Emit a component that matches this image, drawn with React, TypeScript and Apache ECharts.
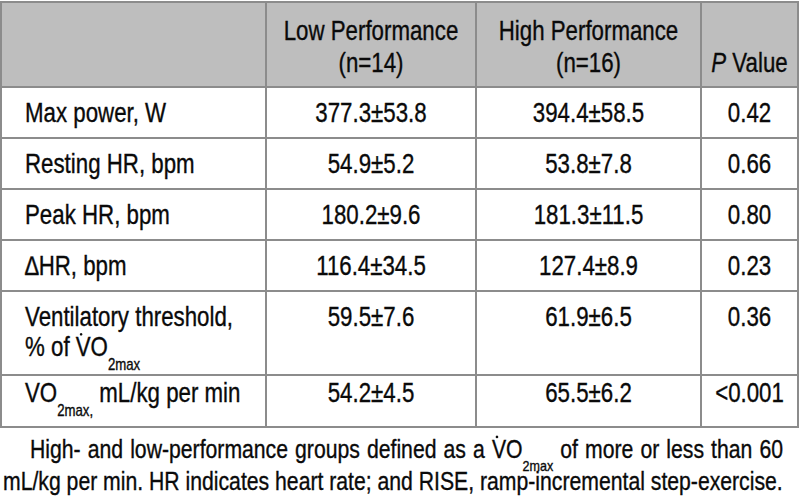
import React, { useEffect, useRef } from "react";
import * as echarts from "echarts";

type Seg = { t: string; sub?: boolean; dot?: boolean; italic?: boolean };

// ---- content ----
const headerLow = ["Low Performance", "(n=14)"];
const headerHigh = ["High Performance", "(n=16)"];
const headerP: Seg[] = [{ t: "P", italic: true }, { t: " Value" }];

const rowLabels: Seg[][][] = [
  [[{ t: "Max power, W" }]],
  [[{ t: "Resting HR, bpm" }]],
  [[{ t: "Peak HR, bpm" }]],
  [[{ t: "\u2206HR, bpm" }]],
  [
    [{ t: "Ventilatory threshold," }],
    [{ t: "% of " }, { t: "V", dot: true }, { t: "O" }, { t: "2max", sub: true }],
  ],
  [[{ t: "VO" }, { t: "2max,", sub: true }, { t: " mL/kg per min" }]],
];
const lowValues = ["377.3±53.8", "54.9±5.2", "180.2±9.6", "116.4±34.5", "59.5±7.6", "54.2±4.5"];
const highValues = ["394.4±58.5", "53.8±7.8", "181.3±11.5", "127.4±8.9", "61.9±6.5", "65.5±6.2"];
const pValues = ["0.42", "0.66", "0.80", "0.23", "0.36", "<0.001"];

const footnoteLine1: Seg[][] = [
  [{ t: "High-" }], [{ t: "and" }], [{ t: "low-performance" }], [{ t: "groups" }],
  [{ t: "defined" }], [{ t: "as" }], [{ t: "a" }],
  [{ t: "V", dot: true }, { t: "O" }, { t: "2max", sub: true }],
  [{ t: "of" }], [{ t: "more" }], [{ t: "or" }], [{ t: "less" }], [{ t: "than" }], [{ t: "60" }],
];
const footnoteLine2 = "mL/kg per min. HR indicates heart rate; and RISE, ramp-incremental step-exercise.";

// ---- layout ----
const COL_X = [1, 266, 476, 701, 798];
const ROW_Y = [2, 87, 138, 189, 240, 291, 375, 427];
const ROW_TEXT_Y = [[113], [164], [215], [266], [317, 347], [393]];
const HEADER_Y = [31, 63];
const LABEL_X = 25;
const FOOT_Y = [449, 481];
const FOOT1_X = [30, 783];
const FOOT2_X = 3;
const FONT_FAMILY = "'Liberation Sans', Arial, sans-serif";
const FS = 27;
const SUB_FS = 16;
const SX = 0.825;
const TEXT = "#0a0a0a";
const GRID = "#8c8c8c";
const HEAD_BG = "#bebebe";

const ctx = document.createElement("canvas").getContext("2d")!;
function fontStr(size: number, italic?: boolean) {
  return `${italic ? "italic " : ""}${size}px ${FONT_FAMILY}`;
}
function mw(text: string, size: number, italic?: boolean) {
  ctx.font = fontStr(size, italic);
  return ctx.measureText(text).width * SX;
}
function segsWidth(segs: Seg[], size: number, subSize: number) {
  return segs.reduce((s, g) => s + mw(g.t, g.sub ? subSize : size, g.italic), 0);
}
function textEl(text: string, x: number, y: number, size: number, align: string, italic?: boolean) {
  return {
    type: "text",
    x,
    y,
    scaleX: SX,
    silent: true,
    style: {
      text,
      font: fontStr(size, italic),
      fill: TEXT,
      stroke: TEXT,
      lineWidth: 0.35,
      textAlign: align,
      textVerticalAlign: "middle",
      align,
      verticalAlign: "middle",
    },
  };
}
function drawSegs(segs: Seg[], x: number, yc: number, size: number, subSize: number, out: any[]) {
  let cx = x;
  for (const g of segs) {
    const fs = g.sub ? subSize : size;
    const w = mw(g.t, fs, g.italic);
    out.push(textEl(g.t, cx, g.sub ? yc + size * 0.64 : yc, fs, "left", g.italic));
    if (g.dot) {
      out.push({
        type: "circle",
        silent: true,
        shape: { cx: cx + w * 0.36, cy: yc - size * 0.47, r: 1.3 },
        style: { fill: TEXT },
      });
    }
    cx += w;
  }
  return cx - x;
}
function centerText(text: string, cx: number, yc: number, out: any[], size = FS) {
  out.push(textEl(text, cx, yc, size, "center"));
}

function buildGraphics() {
  const els: any[] = [];
  els.push({
    type: "rect",
    silent: true,
    shape: { x: COL_X[0], y: ROW_Y[0], width: COL_X[4] - COL_X[0], height: ROW_Y[1] - ROW_Y[0] },
    style: { fill: HEAD_BG },
  });
  ROW_Y.forEach((y) =>
    els.push({
      type: "line",
      silent: true,
      shape: { x1: COL_X[0] - 1, y1: y, x2: COL_X[4] + 1, y2: y },
      style: { stroke: GRID, lineWidth: 2 },
    })
  );
  COL_X.forEach((x) =>
    els.push({
      type: "line",
      silent: true,
      shape: { x1: x, y1: ROW_Y[0], x2: x, y2: ROW_Y[ROW_Y.length - 1] },
      style: { stroke: GRID, lineWidth: 2 },
    })
  );
  const colCenter = (i: number) => (COL_X[i] + COL_X[i + 1]) / 2;
  headerLow.forEach((t, i) => centerText(t, colCenter(1), HEADER_Y[i], els));
  headerHigh.forEach((t, i) => centerText(t, colCenter(2), HEADER_Y[i], els));
  const pw = segsWidth(headerP, FS, SUB_FS);
  drawSegs(headerP, colCenter(3) - pw / 2, HEADER_Y[1], FS, SUB_FS, els);
  rowLabels.forEach((lines, r) => {
    lines.forEach((segs, li) => drawSegs(segs, LABEL_X, ROW_TEXT_Y[r][li], FS, SUB_FS, els));
    const y = ROW_TEXT_Y[r][0];
    centerText(lowValues[r], colCenter(1), y, els);
    centerText(highValues[r], colCenter(2), y, els);
    centerText(pValues[r], colCenter(3), y, els);
  });
  const footFs = Math.min(FS, (780 * 100) / mw(footnoteLine2, 100));
  const footSub = SUB_FS * (footFs / FS);
  const widths = footnoteLine1.map((w) => segsWidth(w, footFs, footSub));
  const total = widths.reduce((a, b) => a + b, 0);
  const gap = (FOOT1_X[1] - FOOT1_X[0] - total) / (footnoteLine1.length - 1);
  let x = FOOT1_X[0];
  footnoteLine1.forEach((w, i) => {
    drawSegs(w, x, FOOT_Y[0], footFs, footSub, els);
    x += widths[i] + gap;
  });
  drawSegs([{ t: footnoteLine2 }], FOOT2_X, FOOT_Y[1], footFs, footSub, els);
  return els;
}

export default function App() {
  const ref = useRef<HTMLDivElement>(null);
  useEffect(() => {
    if (!ref.current) return;
    const chart = echarts.init(ref.current, undefined, { renderer: "svg" });
    chart.setOption({
      animation: false,
      backgroundColor: "#ffffff",
      graphic: { elements: buildGraphics() },
    });
    return () => chart.dispose();
  }, []);
  return (
    <div
      ref={ref}
      style={{ position: "fixed", left: 0, top: 0, width: 800, height: 498, background: "#fff" }}
    />
  );
}
